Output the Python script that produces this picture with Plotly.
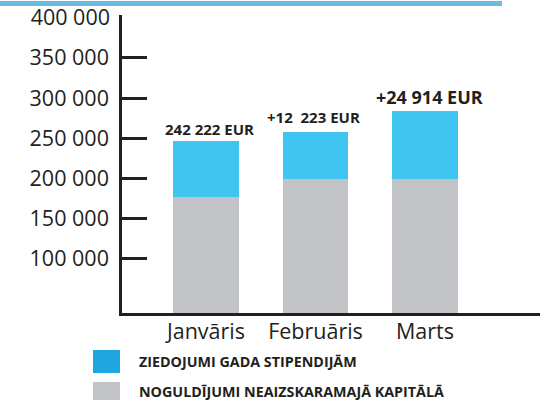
import plotly.graph_objects as go

# ---- data ----
months = ["Janvāris", "Februāris", "Marts"]
capital = [176000, 199000, 199000]          # NOGULDĪJUMI NEAIZSKARAMAJĀ KAPITĀLĀ
scholarships = [70000, 58500, 84800]         # ZIEDOJUMI GADA STIPENDIJĀM
bar_labels = ["242 222 EUR", "+12\u00a0 223 EUR", "+24 914 EUR"]
series_names = ["ZIEDOJUMI GADA STIPENDIJĀM", "NOGULDĪJUMI NEAIZSKARAMAJĀ KAPITĀLĀ"]
y_tick_vals = [100000, 150000, 200000, 250000, 300000, 350000]
y_tick_text = ["100 000", "150 000", "200 000", "250 000", "300 000", "350 000"]
y_top_val = [400000]
y_top_text = ["400 000"]

W, H = 540, 400
ML, MR, MT, MB = 122, 0, 15, 87
PW, PH = W - ML - MR, H - MT - MB

def px_x(p):
    return (p - ML) / PW

def px_y(p):
    return (H - MB - p) / PH

BLUE = "#40c4f0"
GRAY = "#c2c3c7"
LEG_BLUE = "#1fa5df"
DARK = "#231f20"
FONT = "Open Sans"

fig = go.Figure()
fig.add_trace(go.Bar(x=months, y=capital, marker=dict(color=GRAY, line=dict(width=0)),
                     width=0.594, name=series_names[1], showlegend=False))
fig.add_trace(go.Bar(x=months, y=scholarships, marker=dict(color=BLUE, line=dict(width=0)),
                     width=0.594, name=series_names[0], showlegend=False))
# invisible trace on second y axis for the 400 000 label
fig.add_trace(go.Scatter(x=months, y=[None] * len(months), yaxis="y2", showlegend=False,
                         hoverinfo="skip"))

totals = [c + s for c, s in zip(capital, scholarships)]
label_sizes = [15, 15, 18]
label_xshift = [4, -2, 4]
label_yshift = [0, 3, 0]
for m, t, lab, fs, xs, ys in zip(months, totals, bar_labels, label_sizes, label_xshift, label_yshift):
    fig.add_annotation(x=m, y=t, text=f"<b>{lab}</b>", showarrow=False, yanchor="bottom",
                       xanchor="center", xshift=xs, yshift=ys,
                       font=dict(family=FONT, size=fs, color=DARK))

yr = [32000, 403500]
fig.update_layout(
    width=W, height=H,
    margin=dict(l=ML, r=MR, t=MT, b=MB, pad=0),
    paper_bgcolor="white", plot_bgcolor="white",
    barmode="stack", bargap=0,
    font=dict(family=FONT, color=DARK),
    xaxis=dict(range=[-0.767, 3.05], showline=True, linewidth=2.5, linecolor=DARK,
               ticks="", showgrid=False, zeroline=False, ticklabelstandoff=-3,
               tickfont=dict(family=FONT, size=21.5, color=DARK)),
    yaxis=dict(range=yr, showline=True, linewidth=2.5, linecolor=DARK,
               tickvals=y_tick_vals, ticktext=y_tick_text,
               ticks="inside", ticklen=25, tickwidth=2.5, tickcolor=DARK,
               ticklabelstandoff=6,
               showgrid=False, zeroline=False,
               tickfont=dict(family=FONT, size=21.5, color=DARK)),
    yaxis2=dict(range=yr, overlaying="y", side="left", anchor="x",
                tickvals=y_top_val, ticktext=y_top_text, ticks="",
                ticklabelstandoff=11,
                showline=False, showgrid=False, zeroline=False,
                tickfont=dict(family=FONT, size=21.5, color=DARK)),
)

shapes = []
# top decorative line
shapes.append(dict(type="rect", xref="paper", yref="paper",
                   x0=px_x(0), x1=px_x(502), y0=px_y(6), y1=px_y(1),
                   fillcolor="#6cb9e1", line=dict(width=0), layer="above"))
# legend swatches
shapes.append(dict(type="rect", xref="paper", yref="paper",
                   x0=px_x(93), x1=px_x(120), y0=px_y(373), y1=px_y(350),
                   fillcolor=LEG_BLUE, line=dict(width=0)))
shapes.append(dict(type="rect", xref="paper", yref="paper",
                   x0=px_x(93), x1=px_x(120), y0=px_y(403), y1=px_y(382),
                   fillcolor=GRAY, line=dict(width=0)))
fig.update_layout(shapes=shapes)

for name, yc in zip(series_names, [361, 391]):
    fig.add_annotation(xref="paper", yref="paper", x=px_x(137), y=px_y(yc),
                       xanchor="left", yanchor="middle", showarrow=False,
                       text=f"<b>{name}</b>",
                       font=dict(family=FONT, size=14.3, color=DARK))

fig.write_html("out.html", config={"displayModeBar": False},
               post_script="document.body.style.margin='0';")
